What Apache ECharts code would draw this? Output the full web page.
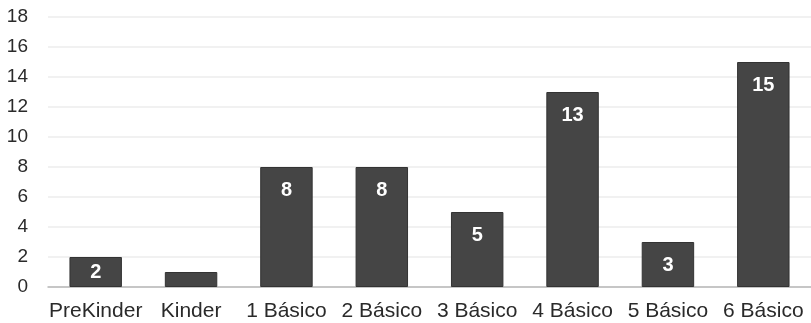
<!DOCTYPE html>
<html>
<head>
<meta charset="utf-8">
<script src="https://cdn.jsdelivr.net/npm/echarts@6/dist/echarts.min.js"></script>
<style>
  html, body { margin: 0; padding: 0; background: #fff; }
  #chart { width: 811px; height: 323px; }
</style>
</head>
<body>
<div id="chart"></div>
<script>
// Students per grade level
const categories = ['PreKinder', 'Kinder', '1 Básico', '2 Básico', '3 Básico', '4 Básico', '5 Básico', '6 Básico'];
const counts = [2, 1, 8, 8, 5, 13, 3, 15];
const yMin = 0;
const yMax = 18;
const yStep = 2;

const fontFamily = '"Liberation Sans", Arial, sans-serif';

// Short bars get their label centred; the tiniest bar stays unlabelled.
const barData = counts.map(v => {
  if (v < 2) return { value: v, label: { show: false } };
  if (v < 3) return { value: v, label: { position: 'inside' } };
  return v;
});

const chart = echarts.init(document.getElementById('chart'), null, { renderer: 'canvas' });
chart.setOption({
  animation: false,
  grid: { left: 48, right: -5, top: 17, bottom: 36, containLabel: false },
  xAxis: {
    type: 'category',
    data: categories,
    axisTick: { show: false },
    axisLine: { lineStyle: { color: '#b8b8b8', width: 1.5 } },
    axisLabel: { color: '#2a2a2a', fontSize: 21, fontFamily, margin: 14, interval: 0 }
  },
  yAxis: {
    type: 'value',
    min: yMin,
    max: yMax,
    interval: yStep,
    axisLine: { show: false },
    axisTick: { show: false },
    splitLine: { lineStyle: { color: '#ececec', width: 1.5 } },
    axisLabel: { color: '#2a2a2a', fontSize: 19, fontFamily, margin: 20 }
  },
  series: [{
    type: 'bar',
    data: barData,
    barWidth: '55%',
    itemStyle: { color: '#454545', borderColor: '#333333', borderWidth: 1 },
    label: {
      show: true,
      position: 'insideTop',
      distance: 13,
      color: '#ffffff',
      fontSize: 20,
      fontWeight: 'bold',
      fontFamily
    }
  }]
});
</script>
</body>
</html>
